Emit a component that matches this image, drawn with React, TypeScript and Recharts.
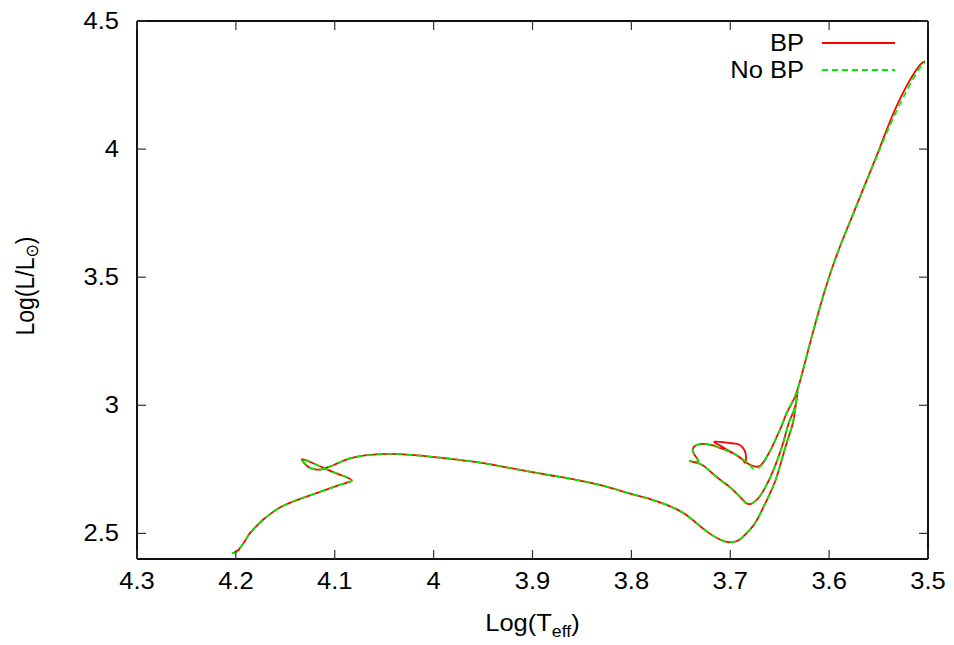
import React from "react";
import { LineChart, Line, XAxis, YAxis } from "recharts";

// ---- axis ticks ----
const xTicks = [4.3, 4.2, 4.1, 4.0, 3.9, 3.8, 3.7, 3.6, 3.5];
const yTicks = [2.5, 3.0, 3.5, 4.0, 4.5];

// ---- main sequence + hook (shared) ----
const msTeff = [4.204, 4.199, 4.195, 4.190, 4.186, 4.179, 4.172, 4.163, 4.155, 4.145, 4.135, 4.115, 4.095, 4.086, 4.083, 4.091, 4.101, 4.110, 4.118, 4.128, 4.133, 4.132, 4.127, 4.120, 4.113, 4.110, 4.101, 4.091, 4.078, 4.054];
const msLum = [2.422, 2.429, 2.447, 2.475, 2.500, 2.529, 2.555, 2.582, 2.602, 2.620, 2.635, 2.662, 2.689, 2.700, 2.708, 2.724, 2.738, 2.754, 2.767, 2.784, 2.789, 2.780, 2.760, 2.750, 2.750, 2.754, 2.767, 2.784, 2.799, 2.809];

// ---- Hertzsprung gap + red giant branch (shared) ----
const hgTeff = [4.034, 4.004, 3.978, 3.953, 3.928, 3.903, 3.878, 3.852, 3.827, 3.802, 3.781, 3.765, 3.751, 3.741, 3.731, 3.721, 3.710, 3.700, 3.692, 3.687, 3.680, 3.673, 3.663, 3.653, 3.643, 3.636, 3.632];
const hgLum = [2.809, 2.800, 2.789, 2.776, 2.759, 2.741, 2.724, 2.706, 2.684, 2.656, 2.634, 2.612, 2.588, 2.562, 2.530, 2.500, 2.475, 2.465, 2.472, 2.487, 2.515, 2.552, 2.630, 2.721, 2.852, 2.943, 3.053];

// ---- descent + blue loop (shared) ----
const loopTeff = [3.634, 3.640, 3.646, 3.653, 3.660, 3.666, 3.671, 3.676, 3.680, 3.684, 3.687, 3.697, 3.706, 3.714, 3.722, 3.731, 3.741, 3.733, 3.735, 3.738, 3.735, 3.728, 3.721, 3.714, 3.705, 3.697, 3.688];
const loopLum = [3.000, 2.940, 2.860, 2.780, 2.715, 2.670, 2.640, 2.622, 2.614, 2.618, 2.630, 2.669, 2.697, 2.721, 2.748, 2.772, 2.782, 2.779, 2.800, 2.825, 2.843, 2.849, 2.846, 2.839, 2.826, 2.813, 2.790];

// ---- BP: extra small loop ----
const bpTailTeff = [3.685, 3.684, 3.685, 3.688, 3.693, 3.704, 3.716, 3.709, 3.704, 3.694, 3.686, 3.680, 3.673, 3.668, 3.663, 3.658, 3.653, 3.648, 3.643, 3.636];
const bpTailLum = [2.776, 2.793, 2.819, 2.838, 2.849, 2.854, 2.858, 2.840, 2.828, 2.806, 2.783, 2.768, 2.760, 2.770, 2.799, 2.835, 2.877, 2.920, 2.969, 3.021];

// ---- No BP: direct to minimum ----
const noBpTailTeff = [3.680, 3.677, 3.672, 3.667, 3.663, 3.658, 3.653, 3.648, 3.643, 3.636];
const noBpTailLum = [2.767, 2.752, 2.755, 2.772, 2.799, 2.835, 2.877, 2.920, 2.969, 3.021];

// ---- asymptotic giant branch ----
const bpAgbTeff = [3.629, 3.616, 3.603, 3.591, 3.578, 3.566, 3.549, 3.532, 3.512, 3.503];
const bpAgbLum = [3.100, 3.290, 3.465, 3.600, 3.725, 3.840, 4.003, 4.166, 4.309, 4.341];
const noBpAgbTeff = [3.629, 3.616, 3.603, 3.591, 3.578, 3.566, 3.549, 3.531, 3.512, 3.503];
const noBpAgbLum = [3.100, 3.290, 3.465, 3.600, 3.725, 3.838, 3.998, 4.155, 4.295, 4.338];

const zip = (t: number[], l: number[]) => t.map((v, i) => ({ t: v, l: l[i] }));

const bpData = [
  ...zip(msTeff, msLum),
  ...zip(hgTeff, hgLum),
  ...zip(loopTeff, loopLum),
  ...zip(bpTailTeff, bpTailLum),
  ...zip(bpAgbTeff, bpAgbLum),
];
const noBpData = [
  ...zip(msTeff, msLum),
  ...zip(hgTeff, hgLum),
  ...zip(loopTeff, loopLum),
  ...zip(noBpTailTeff, noBpTailLum),
  ...zip(noBpAgbTeff, noBpAgbLum),
];

const FONT = "'Liberation Sans', Arial, Helvetica, sans-serif";
const FS = 23;
const SX = 1.11;
const TICK_LEN = 9;
const TICK_COLOR = "#333";

const fmt = (v: number) => String(v);

const STxt = ({ x, y, anchor, children, size = FS }: any) => (
  <g transform={`translate(${x},${y}) scale(${SX},1)`}>
    <text x={0} y={0} textAnchor={anchor} dominantBaseline="central" fontFamily={FONT} fontSize={size} fill="#000">
      {children}
    </text>
  </g>
);

const BottomTick = (props: any) => {
  const { x, y, payload } = props;
  return (
    <g>
      <line x1={x} y1={y} x2={x} y2={y - TICK_LEN} stroke={TICK_COLOR} strokeWidth={1.2} />
      <STxt x={x} y={y + 22} anchor="middle">{fmt(payload.value)}</STxt>
    </g>
  );
};
const TopTick = (props: any) => {
  const { x, y } = props;
  return <line x1={x} y1={y} x2={x} y2={y + TICK_LEN} stroke={TICK_COLOR} strokeWidth={1.2} />;
};
const LeftTick = (props: any) => {
  const { x, y, payload } = props;
  return (
    <g>
      <line x1={x} y1={y} x2={x + TICK_LEN} y2={y} stroke={TICK_COLOR} strokeWidth={1.2} />
      <STxt x={x - 18} y={y} anchor="end">{fmt(payload.value)}</STxt>
    </g>
  );
};
const RightTick = (props: any) => {
  const { x, y } = props;
  return <line x1={x} y1={y} x2={x - TICK_LEN} y2={y} stroke={TICK_COLOR} strokeWidth={1.2} />;
};

const W = 938;
const H = 637;
const PLOT_L = 129;
const PLOT_T = 13;
const PLOT_R = 920;
const PLOT_B = 551;
const axisLine = { stroke: "#111", strokeWidth: 2 };

export default function App() {
  const cx = (PLOT_L + PLOT_R) / 2;
  const cy = (PLOT_T + PLOT_B) / 2;
  return (
    <div style={{ position: "relative", width: W, height: H }}>
      <LineChart width={W} height={H} margin={{ top: PLOT_T - 1, right: W - PLOT_R - 1, bottom: 0, left: 0 }}>
        <XAxis
          xAxisId="b"
          type="number"
          dataKey="t"
          domain={[3.5, 4.3]}
          reversed
          allowDataOverflow
          ticks={xTicks}
          interval={0}
          height={H - PLOT_B}
          tickSize={0}
          tickMargin={0}
          tickLine={false}
          axisLine={axisLine}
          tick={(p: any) => <BottomTick {...p} />}
        />
        <XAxis
          xAxisId="t"
          orientation="top"
          type="number"
          dataKey="t"
          domain={[3.5, 4.3]}
          reversed
          allowDataOverflow
          ticks={xTicks}
          interval={0}
          height={1}
          tickSize={0}
          tickMargin={0}
          tickLine={false}
          axisLine={axisLine}
          tick={(p: any) => <TopTick {...p} />}
        />
        <YAxis
          yAxisId="l"
          type="number"
          dataKey="l"
          domain={[2.4, 4.5]}
          allowDataOverflow
          ticks={yTicks}
          interval={0}
          width={PLOT_L}
          tickSize={0}
          tickMargin={0}
          tickLine={false}
          axisLine={axisLine}
          tick={(p: any) => <LeftTick {...p} />}
        />
        <YAxis
          yAxisId="r"
          orientation="right"
          type="number"
          dataKey="l"
          domain={[2.4, 4.5]}
          allowDataOverflow
          ticks={yTicks}
          interval={0}
          width={1}
          tickSize={0}
          tickMargin={0}
          tickLine={false}
          axisLine={axisLine}
          tick={(p: any) => <RightTick {...p} />}
        />
        {/* invisible series that binds the mirrored top/right axes */}
        <Line
          xAxisId="t"
          yAxisId="r"
          data={noBpData}
          dataKey="l"
          type="linear"
          stroke="none"
          dot={false}
          activeDot={false}
          legendType="none"
          isAnimationActive={false}
        />
        <Line
          xAxisId="b"
          yAxisId="l"
          data={bpData}
          dataKey="l"
          name="BP"
          type="natural"
          stroke="#ff0000"
          strokeWidth={1.8}
          dot={false}
          activeDot={false}
          isAnimationActive={false}
        />
        <Line
          xAxisId="b"
          yAxisId="l"
          data={noBpData}
          dataKey="l"
          name="No BP"
          type="natural"
          stroke="#00ee00"
          strokeWidth={1.8}
          strokeDasharray="6 4"
          dot={false}
          activeDot={false}
          isAnimationActive={false}
        />
      </LineChart>
      <svg width={W} height={H} style={{ position: "absolute", left: 0, top: 0, pointerEvents: "none" }}>
        {/* legend */}
        <STxt x={796} y={35} anchor="end">BP</STxt>
        <line x1={814} y1={35} x2={887} y2={35} stroke="#ff0000" strokeWidth={1.8} />
        <STxt x={796} y={62} anchor="end">No BP</STxt>
        <line x1={814} y1={62} x2={887} y2={62} stroke="#00ee00" strokeWidth={1.8} strokeDasharray="6 4" />
        {/* x axis title */}
        <g transform={`translate(${cx},${623}) scale(${SX},1)`}>
          <text x={0} y={0} textAnchor="middle" fontFamily={FONT} fontSize={FS} fill="#000">
            Log(T<tspan fontSize={16} dy={6}>eff</tspan><tspan dy={-6}>)</tspan>
          </text>
        </g>
        {/* y axis title */}
        <g transform={`translate(${17},${cy - 4}) scale(${SX},1) rotate(-90)`}>
          <text x={0} y={0} textAnchor="middle" dominantBaseline="central" fontFamily={FONT} fontSize={FS} fill="#000">
            Log(L/L<tspan fontSize={16} dy={6} fontFamily="'DejaVu Sans', sans-serif">⊙</tspan><tspan dy={-6}>)</tspan>
          </text>
        </g>
      </svg>
    </div>
  );
}
